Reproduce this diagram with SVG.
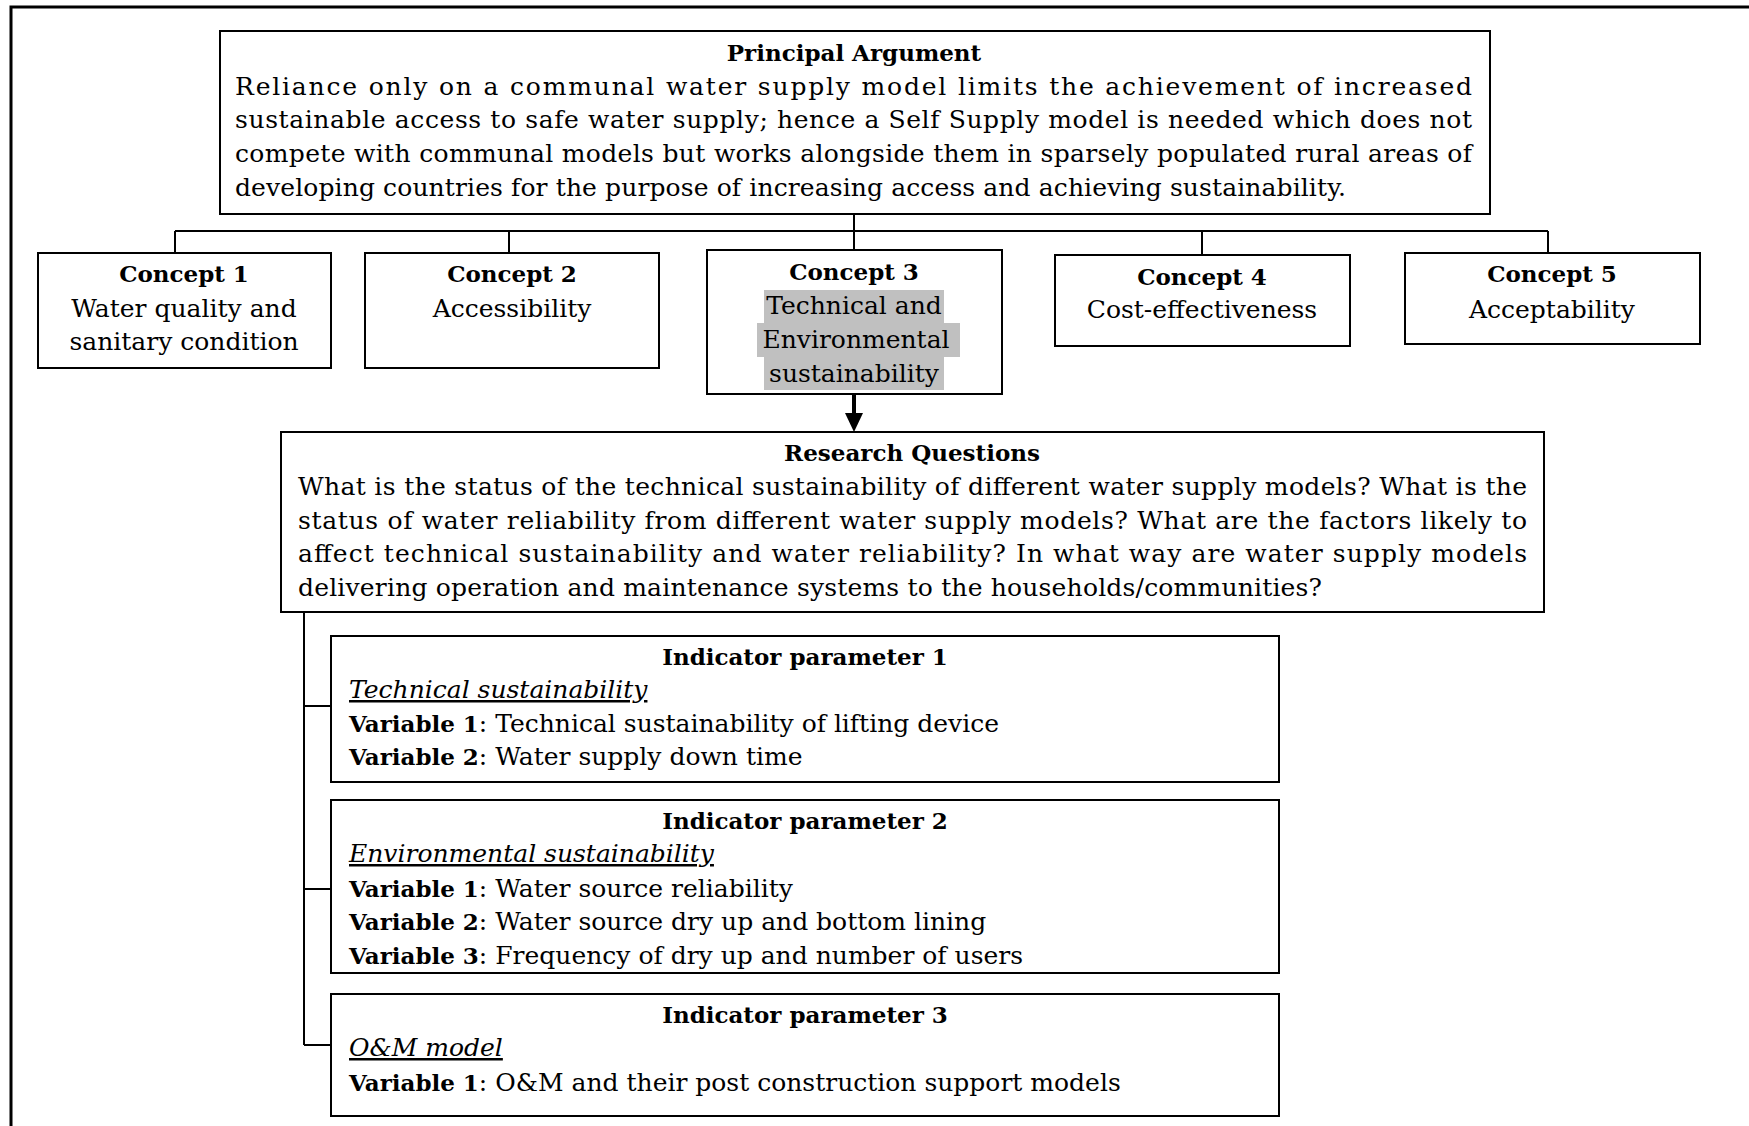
<svg xmlns="http://www.w3.org/2000/svg" width="1749" height="1126" viewBox="0 0 1749 1126">
<defs>
<style>
text{font-family:"DejaVu Serif","Liberation Serif",serif;font-size:25px;fill:#000}
.b{font-weight:bold;font-size:23px}
.c{text-anchor:middle}
.i{font-style:italic;text-decoration:underline}
.box{fill:#fff;stroke:#000;stroke-width:2}
.ln{fill:none;stroke:#000;stroke-width:2}
.hl{fill:#c0c0c0}
</style>
</defs>
<rect width="1749" height="1126" fill="#fff"/>
<path d="M11,1126 V7 H1749" fill="none" stroke="#000" stroke-width="3"/>

<g id="connectors">
<path class="ln" d="M854,214 V231 M175,231 H1548 M175,231 V253 M509,231 V253 M854,231 V250 M1202,231 V255 M1548,231 V253"/>
<line x1="854" y1="394" x2="854" y2="415" stroke="#000" stroke-width="4"/>
<path d="M845,413 L863,413 L854,432 Z" fill="#000"/>
<path class="ln" d="M304,612 V1045 M304,706 H331 M304,889 H331 M304,1045 H331"/>
</g>

<g id="principal">
<rect class="box" x="220" y="31" width="1270" height="183"/>
<text class="b c" x="854" y="61">Principal Argument</text>
<text x="235" y="95" textLength="1237" lengthAdjust="spacing">Reliance only on a communal water supply model limits the achievement of increased</text>
<text x="235" y="128" textLength="1237" lengthAdjust="spacing">sustainable access to safe water supply; hence a Self Supply model is needed which does not</text>
<text x="235" y="162" textLength="1237" lengthAdjust="spacing">compete with communal models but works alongside them in sparsely populated rural areas of</text>
<text x="235" y="196" textLength="1111" lengthAdjust="spacing">developing countries for the purpose of increasing access and achieving sustainability.</text>
</g>

<g id="concept1">
<rect class="box" x="38" y="253" width="293" height="115"/>
<text class="b c" x="184" y="282">Concept 1</text>
<text class="c" x="184" y="317">Water quality and</text>
<text class="c" x="184" y="350">sanitary condition</text>
</g>

<g id="concept2">
<rect class="box" x="365" y="253" width="294" height="115"/>
<text class="b c" x="512" y="282">Concept 2</text>
<text class="c" x="512" y="317">Accessibility</text>
</g>

<g id="concept3">
<rect class="box" x="707" y="250" width="295" height="144"/>
<rect class="hl" x="764" y="290" width="180" height="33"/>
<rect class="hl" x="757" y="323" width="203" height="34"/>
<rect class="hl" x="764" y="357" width="180" height="33"/>
<text class="b c" x="854" y="280">Concept 3</text>
<text class="c" x="854" y="314">Technical and</text>
<text class="c" x="856" y="348">Environmental</text>
<text class="c" x="854" y="382">sustainability</text>
</g>

<g id="concept4">
<rect class="box" x="1055" y="255" width="295" height="91"/>
<text class="b c" x="1202" y="285">Concept 4</text>
<text class="c" x="1202" y="318">Cost-effectiveness</text>
</g>

<g id="concept5">
<rect class="box" x="1405" y="253" width="295" height="91"/>
<text class="b c" x="1552" y="282">Concept 5</text>
<text class="c" x="1552" y="318">Acceptability</text>
</g>

<g id="research">
<rect class="box" x="281" y="432" width="1263" height="180"/>
<text class="b c" x="912" y="461">Research Questions</text>
<text x="298" y="495" textLength="1229" lengthAdjust="spacing">What is the status of the technical sustainability of different water supply models? What is the</text>
<text x="298" y="529" textLength="1229" lengthAdjust="spacing">status of water reliability from different water supply models? What are the factors likely to</text>
<text x="298" y="562" textLength="1229" lengthAdjust="spacing">affect technical sustainability and water reliability? In what way are water supply models</text>
<text x="298" y="596" textLength="1024" lengthAdjust="spacing">delivering operation and maintenance systems to the households/communities?</text>
</g>

<g id="indicator1">
<rect class="box" x="331" y="636" width="948" height="146"/>
<text class="b c" x="805" y="665">Indicator parameter 1</text>
<text class="i" x="349" y="698">Technical sustainability</text>
<text x="349" y="732"><tspan class="b">Variable 1</tspan>: Technical sustainability of lifting device</text>
<text x="349" y="765"><tspan class="b">Variable 2</tspan>: Water supply down time</text>
</g>

<g id="indicator2">
<rect class="box" x="331" y="800" width="948" height="173"/>
<text class="b c" x="805" y="829">Indicator parameter 2</text>
<text class="i" x="349" y="862">Environmental sustainability</text>
<text x="349" y="897"><tspan class="b">Variable 1</tspan>: Water source reliability</text>
<text x="349" y="930"><tspan class="b">Variable 2</tspan>: Water source dry up and bottom lining</text>
<text x="349" y="964"><tspan class="b">Variable 3</tspan>: Frequency of dry up and number of users</text>
</g>

<g id="indicator3">
<rect class="box" x="331" y="994" width="948" height="122"/>
<text class="b c" x="805" y="1023">Indicator parameter 3</text>
<text class="i" x="349" y="1056">O&amp;M model</text>
<text x="349" y="1091"><tspan class="b">Variable 1</tspan>: O&amp;M and their post construction support models</text>
</g>
</svg>
